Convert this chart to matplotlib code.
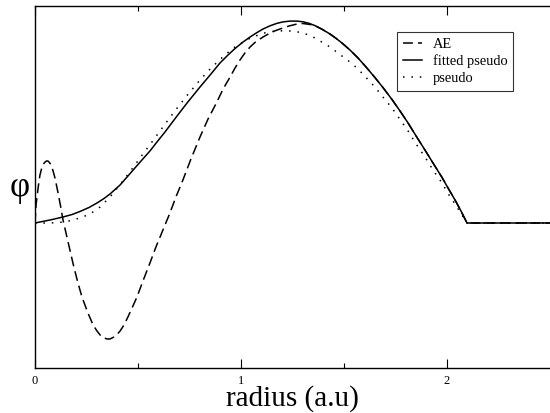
import matplotlib
matplotlib.use("Agg")
import matplotlib.pyplot as plt
from matplotlib.ticker import FixedLocator, NullFormatter

plt.rcParams['font.family'] = ['Liberation Serif', 'DejaVu Serif']

# ---- data (radius in a.u., phi in arbitrary units) ----
r_ae = [0.000, 0.005, 0.015, 0.024, 0.034, 0.041, 0.049, 0.056, 0.063, 0.070,
        0.078, 0.087, 0.097, 0.112, 0.124, 0.136, 0.155, 0.184, 0.206, 0.228,
        0.255, 0.282, 0.301, 0.316, 0.330, 0.350, 0.364, 0.383, 0.398, 0.413,
        0.432, 0.451, 0.471, 0.495, 0.524, 0.558, 0.587, 0.621, 0.655, 0.684,
        0.718, 0.757, 0.801, 0.840, 0.883, 0.913, 0.947, 0.971, 0.995, 1.019,
        1.044, 1.073, 1.107, 1.150, 1.189, 1.233, 1.272, 1.301, 1.335, 1.359,
        1.393, 1.432, 1.461, 1.490, 1.529, 1.568, 1.607, 1.650, 1.689, 1.733,
        1.772, 1.811, 1.850, 1.893, 1.932, 1.976, 2.005, 2.039, 2.068, 2.097,
        2.500]
phi_ae = [0.00, 0.18, 0.35, 0.48, 0.56, 0.59, 0.61, 0.62, 0.62, 0.605,
          0.58, 0.525, 0.45, 0.30, 0.17, 0.03, -0.14, -0.40, -0.58, -0.74,
          -0.89, -1.02, -1.08, -1.12, -1.145, -1.16, -1.16, -1.14, -1.115, -1.08,
          -1.02, -0.94, -0.85, -0.74, -0.58, -0.40, -0.24, -0.07, 0.10, 0.26,
          0.43, 0.64, 0.86, 1.04, 1.21, 1.34, 1.46, 1.55, 1.63, 1.70,
          1.76, 1.815, 1.86, 1.91, 1.94, 1.97, 1.99, 1.995, 1.985, 1.974,
          1.938, 1.89, 1.847, 1.80, 1.73, 1.65, 1.56, 1.455, 1.355, 1.235,
          1.12, 1.00, 0.87, 0.73, 0.60, 0.455, 0.35, 0.23, 0.12, 0.00,
          0.00]

r_fit = [0.000, 0.073, 0.136, 0.180, 0.218, 0.262, 0.301, 0.335, 0.364, 0.413,
         0.447, 0.485, 0.519, 0.558, 0.592, 0.631, 0.684, 0.738, 0.801, 0.850,
         0.898, 0.937, 0.971, 1.010, 1.044, 1.078, 1.107, 1.141, 1.175, 1.204,
         1.238, 1.272, 1.301, 1.330, 1.359, 1.393, 1.432, 1.461, 1.490, 1.529,
         1.568, 1.607, 1.650, 1.689, 1.733, 1.772, 1.811, 1.850, 1.893, 1.932,
         1.976, 2.005, 2.039, 2.068, 2.097, 2.500]
phi_fit = [0.00, 0.03, 0.06, 0.085, 0.115, 0.155, 0.20, 0.245, 0.29, 0.38,
           0.46, 0.55, 0.63, 0.72, 0.81, 0.91, 1.055, 1.20, 1.36, 1.48,
           1.60, 1.68, 1.745, 1.81, 1.86, 1.905, 1.94, 1.972, 1.997, 2.011,
           2.019, 2.019, 2.012, 1.997, 1.974, 1.938, 1.89, 1.847, 1.80, 1.73,
           1.65, 1.56, 1.455, 1.355, 1.235, 1.12, 1.00, 0.87, 0.73, 0.60,
           0.455, 0.35, 0.23, 0.12, 0.00, 0.00]

r_ps = [0.000, 0.073, 0.146, 0.218, 0.267, 0.316, 0.364, 0.413, 0.447, 0.476,
        0.524, 0.573, 0.612, 0.655, 0.694, 0.738, 0.801, 0.850, 0.898, 0.937,
        0.971, 1.010, 1.044, 1.078, 1.107, 1.136, 1.165, 1.199, 1.238, 1.272,
        1.301, 1.325, 1.350, 1.388, 1.432, 1.461, 1.490, 1.529, 1.568, 1.607,
        1.650, 1.689, 1.733, 1.772, 1.811, 1.850, 1.893, 1.932, 1.976, 2.005,
        2.039, 2.068, 2.097, 2.500]
phi_ps = [0.00, 0.00, 0.01, 0.05, 0.09, 0.16, 0.26, 0.385, 0.475, 0.555,
          0.69, 0.825, 0.935, 1.055, 1.16, 1.275, 1.43, 1.54, 1.635, 1.705,
          1.76, 1.81, 1.847, 1.875, 1.897, 1.91, 1.918, 1.922, 1.92, 1.912,
          1.90, 1.882, 1.86, 1.815, 1.76, 1.715, 1.67, 1.61, 1.54, 1.455,
          1.36, 1.26, 1.15, 1.035, 0.92, 0.79, 0.66, 0.53, 0.40, 0.295,
          0.19, 0.095, 0.00, 0.00]

labels = ["AE", "fitted pseudo", "pseudo"]
x_major = [0, 1, 2]
x_minor = [0.5, 1.5]
x_ticklabels = ["0", "1", "2"]

# ---- figure ----
fig = plt.figure(figsize=(5.5, 4.13), dpi=100)
ax = fig.add_axes([35/550, 1 - 368/413, 1 - 35/550, (368 - 6)/413])

lw = 1.1
ax.plot(r_ae, phi_ae, color='black', lw=lw, dashes=(6.5, 3.3), label=labels[0])
ax.plot(r_fit, phi_fit, color='black', lw=lw, label=labels[1])
ax.plot(r_ps, phi_ps, color='black', lw=lw, dashes=(1, 4.5), label=labels[2])

ax.set_xlim(0, 2.5)
ax.set_ylim(-1.45, 2.17)

ax.xaxis.set_major_locator(FixedLocator(x_major))
ax.xaxis.set_minor_locator(FixedLocator(x_minor))
ax.set_xticklabels(x_ticklabels)
ax.xaxis.set_minor_formatter(NullFormatter())
ax.tick_params(axis='x', which='major', direction='in', length=6.5, width=0.8,
               top=True, bottom=True, labelsize=9, pad=5)
ax.tick_params(axis='x', which='minor', direction='in', length=3.6, width=0.8,
               top=True, bottom=True)
ax.set_yticks([])

for s in ['left', 'bottom', 'top']:
    ax.spines[s].set_linewidth(1.0)
ax.spines['right'].set_visible(False)

ax.set_xlabel("radius (a.u)", fontsize=21, labelpad=-1)
ax.set_ylabel("φ", fontsize=25, labelpad=3, rotation=0, va='center')
ax.yaxis.set_label_coords(-0.03, (368 - 188)/362)

leg = ax.legend(loc='upper right', bbox_to_anchor=((513 - 35)/515, (368 - 32)/362),
                borderaxespad=0, fontsize=10.4, frameon=True, fancybox=False,
                edgecolor='black', handlelength=1.3, handletextpad=0.75,
                labelspacing=0.25, borderpad=0.4)
leg.get_frame().set_linewidth(0.8)

fig.savefig("out.png", dpi=100)
